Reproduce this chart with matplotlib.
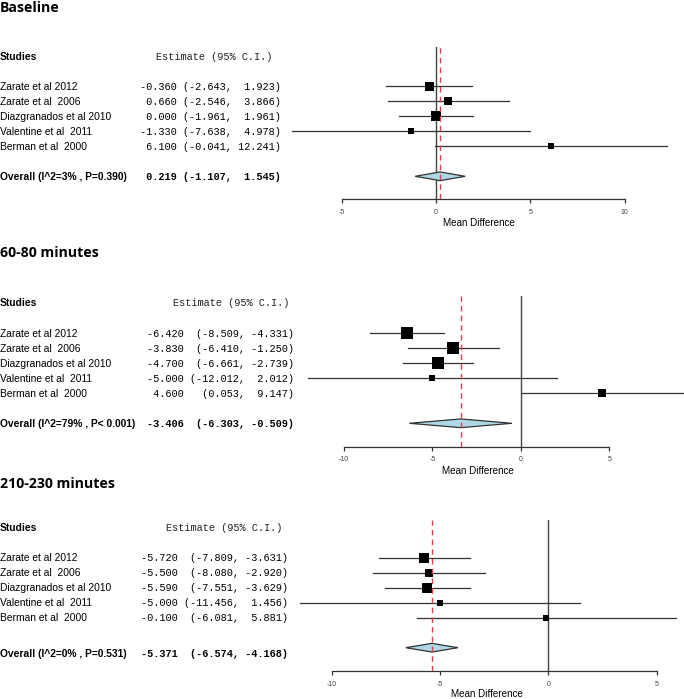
import matplotlib
matplotlib.use("Agg")
import matplotlib.pyplot as plt

# ---------------------------------------------------------------------------
# Data
# ---------------------------------------------------------------------------
studies = ["Zarate et al 2012", "Zarate et al  2006", "Diazgranados et al 2010",
           "Valentine et al  2011", "Berman et al  2000"]

panel_titles = ["Baseline", "60-80 minutes", "210-230 minutes"]

base_est = [-0.360, 0.660, 0.000, -1.330, 6.100]
base_lo = [-2.643, -2.546, -1.961, -7.638, -0.041]
base_hi = [1.923, 3.866, 1.961, 4.978, 12.241]
base_overall = [0.219, -1.107, 1.545]
base_overall_label = "Overall (I^2=3% , P=0.390)"
base_box = [9.0, 8.3, 10.0, 6.3, 6.0]       # box side (px) ~ study weight

m60_est = [-6.420, -3.830, -4.700, -5.000, 4.600]
m60_lo = [-8.509, -6.410, -6.661, -12.012, 0.053]
m60_hi = [-4.331, -1.250, -2.739, 2.012, 9.147]
m60_overall = [-3.406, -6.303, -0.509]
m60_overall_label = "Overall (I^2=79% , P< 0.001)"
m60_box = [12.0, 11.3, 12.3, 6.7, 8.3]

m210_est = [-5.720, -5.500, -5.590, -5.000, -0.100]
m210_lo = [-7.809, -8.080, -7.551, -11.456, -6.081]
m210_hi = [-3.631, -2.920, -3.629, 1.456, 5.881]
m210_overall = [-5.371, -6.574, -4.168]
m210_overall_label = "Overall (I^2=0% , P=0.531)"
m210_box = [10.0, 8.7, 10.0, 5.7, 5.7]

base_ticks = [-5, 0, 5, 10]
m60_ticks = [-10, -5, 0, 5]
m210_ticks = [-10, -5, 0, 5]

# ---------------------------------------------------------------------------
# Layout (pixel positions of each panel in the 684x699 image)
# ---------------------------------------------------------------------------
W, H = 684, 699
ROW = 15.0
panels = [
    dict(title=panel_titles[0], est=base_est, lo=base_lo, hi=base_hi, ov=base_overall,
         ov_label=base_overall_label, box=base_box, ticks=base_ticks,
         title_base=12, head_y=56.7, row0_txt=86.7, ov_txt=176.5, num_x=140, est_hdr_x=156,
         zero=436, scale=18.87, row0=86.3, axis=199, top=47, xlab=(479, 223)),
    dict(title=panel_titles[1], est=m60_est, lo=m60_lo, hi=m60_hi, ov=m60_overall,
         ov_label=m60_overall_label, box=m60_box, ticks=m60_ticks,
         title_base=257.5, head_y=303.3, row0_txt=334.3, ov_txt=424.3, num_x=147, est_hdr_x=173,
         zero=521, scale=17.7, row0=333.3, axis=446.7, top=295.7, xlab=(478, 471)),
    dict(title=panel_titles[2], est=m210_est, lo=m210_lo, hi=m210_hi, ov=m210_overall,
         ov_label=m210_overall_label, box=m210_box, ticks=m210_ticks,
         title_base=488.5, head_y=528.3, row0_txt=558.3, ov_txt=654.3, num_x=141, est_hdr_x=166,
         zero=548.3, scale=21.67, row0=557.7, axis=671, top=520, xlab=(487, 694)),
]

SANS = "Liberation Sans"
MONO = "Liberation Mono"
TXT = 7.4
LINE_C = "#333333"


def fx(x):
    return x / W


def fy(y):
    return 1 - y / H


def est_strings(est, lo, hi, ov):
    e_all = [f"{v:.3f}" for v in est + [ov[0]]]
    l_all = [f"({v:.3f}," for v in lo + [ov[1]]]
    h_all = [f"{v:.3f})" for v in hi + [ov[2]]]
    we = max(len(s) for s in e_all)
    wl = max(len(s) for s in l_all)
    wh = max(len(s) for s in h_all)
    return [f"{e:>{we}} {l:>{wl}} {h:>{wh}}" for e, l, h in zip(e_all, l_all, h_all)]


fig = plt.figure(figsize=(W / 100, H / 100), dpi=100)

for p in panels:
    # ---- text table ----
    fig.text(fx(0), fy(p["title_base"]), p["title"], family="Open Sans",
             weight="bold", fontsize=10.2, va="baseline", ha="left")
    fig.text(fx(0), fy(p["head_y"]), "Studies", family=SANS, weight="bold",
             fontsize=TXT, va="center")
    fig.text(fx(p["est_hdr_x"]), fy(p["head_y"]), "Estimate (95% C.I.)", family=MONO,
             fontsize=TXT, va="center", color="#222222")
    strs = est_strings(p["est"], p["lo"], p["hi"], p["ov"])
    for i, name in enumerate(studies):
        y = p["row0_txt"] + i * ROW
        fig.text(fx(0), fy(y), name, family=SANS, fontsize=TXT, va="center")
        fig.text(fx(p["num_x"]), fy(y), strs[i], family=MONO, fontsize=TXT, va="center")
    fig.text(fx(0), fy(p["ov_txt"]), p["ov_label"], family=SANS, weight="bold",
             fontsize=TXT, va="center")
    fig.text(fx(p["num_x"]), fy(p["ov_txt"]), strs[-1], family=MONO, weight="bold",
             fontsize=TXT, va="center")

    # ---- forest plot ----
    ax = fig.add_axes([0, fy(p["axis"]), 1, (p["axis"] - p["top"]) / H])
    ax.set_facecolor("none")
    ax.set_xlim((0 - p["zero"]) / p["scale"], (W - p["zero"]) / p["scale"])
    ax.set_ylim((p["axis"] - p["row0"]) / ROW, (p["top"] - p["row0"]) / ROW)

    ax.axvline(0, color="#444444", lw=1.0, zorder=1)
    ax.axvline(p["ov"][0], color="#d9434f", lw=1.0, ls=(0, (4, 3)), zorder=4)

    for i in range(len(studies)):
        ax.plot([p["lo"][i], p["hi"][i]], [i, i], color=LINE_C, lw=0.9, zorder=2)
        ax.plot(p["est"][i], i, marker="s", color="black",
                markersize=p["box"][i] * 0.72, markeredgewidth=0, zorder=3)

    e, l, h = p["ov"]
    yd, hd = 6, 0.29
    ax.fill([l, e, h, e], [yd, yd - hd, yd, yd + hd], facecolor="#add8e6",
            edgecolor=LINE_C, lw=0.9, zorder=3)

    for s in ["top", "right", "left"]:
        ax.spines[s].set_visible(False)
    ax.spines["bottom"].set_bounds(p["ticks"][0], p["ticks"][-1])
    ax.spines["bottom"].set_color(LINE_C)
    ax.spines["bottom"].set_linewidth(0.9)
    ax.set_yticks([])
    ax.set_xticks(p["ticks"])
    ax.set_xticklabels([str(t) for t in p["ticks"]])
    ax.tick_params(axis="x", direction="out", length=3, width=0.9, color=LINE_C,
                   pad=4, labelsize=5, labelcolor="#444444")
    for lab in ax.get_xticklabels():
        lab.set_family(SANS)

    fig.text(fx(p["xlab"][0]), fy(p["xlab"][1]), "Mean Difference", family=SANS,
             fontsize=7.1, ha="center", va="center")

fig.savefig("out.png", dpi=100)
